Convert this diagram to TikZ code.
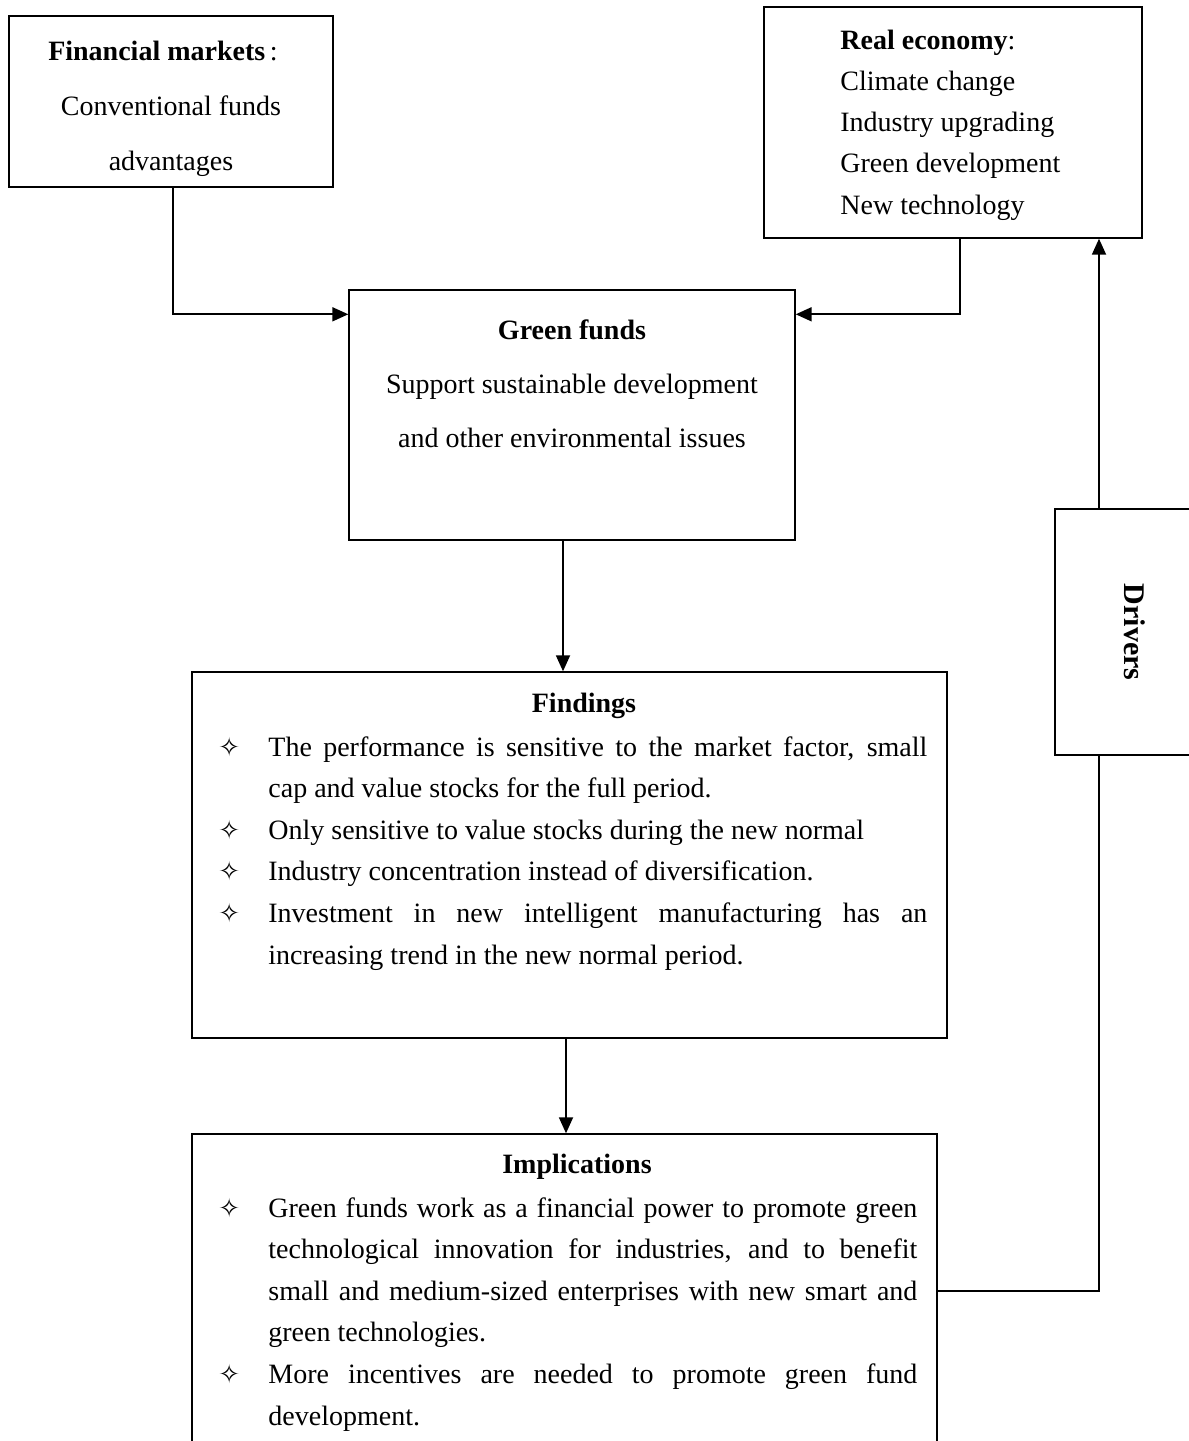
\documentclass[tikz,border=0pt]{standalone}
\usepackage{fontspec}
\usepackage{graphicx}
\setmainfont{Liberation Serif}
\newfontfamily\symfont{DejaVu Sans}
\usetikzlibrary{arrows.meta}
\tikzset{
  box/.style={draw, line width=0.7pt, inner sep=0pt},
  txt/.style={inner sep=0pt, font=\fontsize{14}{20.8}\selectfont},
  arr/.style={line width=0.9pt, -{Triangle[length=8pt,width=7pt]}},
}
\newcommand\staritem[1]{\noindent\hangindent=24pt\hangafter=1\makebox[24pt][l]{\hspace*{-1pt}\symfont\fontsize{13}{13}\selectfont ✧}#1\par}
\begin{document}
\begin{tikzpicture}[x=0.5pt, y=-0.5pt]
   \useasboundingbox (0,0) rectangle (1189,1441);
   \clip (0,0) rectangle (1189,1441);
   % boxes
   \node[box, minimum width=162pt, minimum height=85.5pt] (fin) at (171,101.5) {};
   \node[box, minimum width=189pt, minimum height=115.5pt] (real) at (953,122.5) {};
   \node[box, minimum width=223pt, minimum height=125pt] (green) at (572,415) {};
   \node[box, minimum width=377.5pt, minimum height=183pt] (find) at (569.5,855) {};
   \node[box, minimum width=372.5pt, minimum height=183pt] (impl) at (564.5,1317) {};
   \node[box, minimum width=80pt, minimum height=123pt] (drv) at (1135,632)
      {\rotatebox{-90}{\fontsize{15}{15}\selectfont\bfseries Drivers}};
   % texts
   \node[txt, align=center, font=\fontsize{14}{27.5}\selectfont] (fintxt) at (171,109)
      {\textbf{Financial markets}\,:\hspace*{8pt}\\Conventional funds\\advantages};
   \node[txt, align=left, font=\fontsize{14}{20.6}\selectfont, anchor=west] (realtxt) at (840,125)
      {\textbf{Real economy}:\\Climate change\\Industry upgrading\\Green development\\New technology};
   \node[txt, align=center, font=\fontsize{14}{27}\selectfont] (greentxt) at (572,384)
      {\textbf{Green funds}\\Support sustainable development\\and other environmental issues};
   \node[txt] (findhead) at (584,706) {\textbf{Findings}};
   \node[txt, text width=353.5pt, align=justify, anchor=north west] (findlist) at (220,736) {%
      \staritem{The performance is sensitive to the market factor, small\linebreak cap and value stocks for the full period.}
      \staritem{Only sensitive to value stocks during the new normal}
      \staritem{Industry concentration instead of diversification.}
      \staritem{Investment in new intelligent manufacturing has an\linebreak increasing trend in the new normal period.}};
   \node[txt] (implhead) at (577,1167) {\textbf{Implications}};
   \node[txt, text width=348.5pt, align=justify, anchor=north west] (impllist) at (220,1197) {%
      \staritem{Green funds work as a financial power to promote green\linebreak technological innovation for industries, and to benefit\linebreak small and medium-sized enterprises with new smart and\linebreak green technologies.}
      \staritem{More incentives are needed to promote green fund\linebreak development.}};
   % connectors
   \draw[arr] ([xshift=1pt]fin.south) |- ([yshift=-12.5pt]green.north west);
   \draw[arr] ([xshift=3.5pt]real.south) |- ([yshift=-12.5pt]green.north east);
   \draw[arr] ([xshift=-4.5pt]green.south) -- ([xshift=-4.5pt]green.south |- find.north);
   \draw[arr] ([xshift=-1.75pt]find.south) -- ([xshift=-1.75pt]find.south |- impl.north);
   \draw[line width=0.9pt] ([yshift=-79pt]impl.north east) -| ([xshift=-18pt]drv.south);
   \draw[arr] ([xshift=-18pt]drv.north) -- ([xshift=-18pt]drv.north |- real.south);
\end{tikzpicture}
\end{document}
